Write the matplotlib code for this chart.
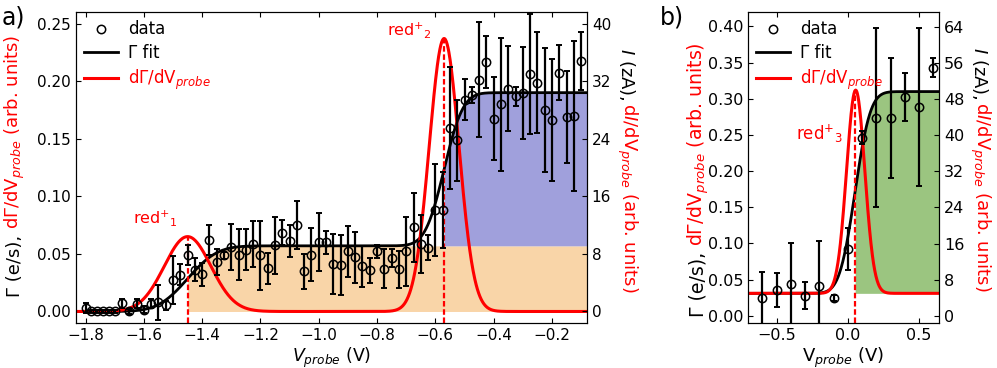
import math
import numpy as np
import matplotlib
matplotlib.use('Agg')
import matplotlib.pyplot as plt

# ---- panel a data: rate vs probe voltage
v_a = [-1.80, -1.78, -1.76, -1.74, -1.72, -1.70, -1.675, -1.65, -1.625, -1.60,
       -1.575, -1.55, -1.525, -1.50, -1.475, -1.45, -1.425, -1.40, -1.375, -1.35,
       -1.325, -1.30, -1.275, -1.25, -1.225, -1.20, -1.175, -1.15, -1.125, -1.10,
       -1.075, -1.05, -1.025, -1.00, -0.975, -0.95, -0.925, -0.90, -0.875, -0.85,
       -0.825, -0.80, -0.775, -0.75, -0.725, -0.70, -0.675, -0.65, -0.625, -0.60,
       -0.575, -0.55, -0.525, -0.50, -0.475, -0.45, -0.425, -0.40, -0.375, -0.35,
       -0.325, -0.30, -0.275, -0.25, -0.225, -0.20, -0.175, -0.15, -0.125, -0.10]
g_a = [0.003, 0.0, 0.0, 0.0, 0.0, 0.0, 0.007, 0.0, 0.0067, 0.0015,
       0.0067, 0.008, 0.0055, 0.0275, 0.032, 0.0487, 0.0362, 0.0322, 0.0617, 0.0429,
       0.0487, 0.0559, 0.0492, 0.0536, 0.0582, 0.0487, 0.0377, 0.0574, 0.0684, 0.0611,
       0.0753, 0.0348, 0.0493, 0.0602, 0.0602, 0.0414, 0.040, 0.0521, 0.047, 0.0391,
       0.0356, 0.0521, 0.0371, 0.0466, 0.0365, 0.0524, 0.0733, 0.0588, 0.0553, 0.0878,
       0.0878, 0.1596, 0.1486, 0.184, 0.1883, 0.2013, 0.2166, 0.1674, 0.1799, 0.1935,
       0.1868, 0.19, 0.2059, 0.1987, 0.1747, 0.166, 0.2074, 0.1688, 0.170, 0.2175]
e_a = [0.004, 0.001, 0.001, 0.001, 0.001, 0.001, 0.004, 0.002, 0.004, 0.003,
       0.004, 0.015, 0.004, 0.021, 0.009, 0.0087, 0.010, 0.010, 0.013, 0.011,
       0.003, 0.020, 0.022, 0.018, 0.020, 0.030, 0.0135, 0.025, 0.011, 0.014,
       0.021, 0.015, 0.023, 0.025, 0.010, 0.026, 0.026, 0.022, 0.022, 0.018,
       0.011, 0.006, 0.017, 0.0077, 0.016, 0.030, 0.030, 0.025, 0.011, 0.040,
       0.033, 0.053, 0.035, 0.018, 0.007, 0.050, 0.0225, 0.036, 0.0575, 0.037,
       0.0085, 0.040, 0.052, 0.044, 0.054, 0.053, 0.024, 0.040, 0.065, 0.025]

# fit parameters panel a (two steps)
step_a = [0.057, 0.133]
cen_a = [-1.45, -0.57]
wid_a = [0.08, 0.051]
peak_a = [0.065, 0.237]   # dGamma/dV peaks (arb.)

# ---- panel b data
v_b = [-0.6, -0.5, -0.4, -0.3, -0.2, -0.1, 0.0, 0.1, 0.2, 0.3, 0.4, 0.5, 0.6]
g_b = [0.0248, 0.0359, 0.0441, 0.028, 0.041, 0.0244, 0.0924, 0.2464, 0.274, 0.274,
       0.303, 0.289, 0.343]
e_b = [0.036, 0.0235, 0.056, 0.019, 0.062, 0.004, 0.029, 0.009, 0.124, 0.083,
       0.033, 0.109, 0.013]

base_b = 0.031
step_b = 0.279
cen_b = 0.05
wid_b = 0.085
peak_b = 0.281
pwid_b = 0.064

E_ZA = 160.2   # e/s -> zA

perf = np.vectorize(math.erf)


def step(v, a, c, w):
    return a * 0.5 * (1 + perf((v - c) / (np.sqrt(2) * w)))


def gauss(v, a, c, w):
    return a * np.exp(-(v - c) ** 2 / (2 * w ** 2))


plt.rcParams['font.size'] = 11
fig = plt.figure(figsize=(9.97, 3.68), dpi=100)
ax1 = fig.add_axes([0.0762, 0.1223, 0.5125, 0.845])
ax2 = fig.add_axes([0.7503, 0.1223, 0.1916, 0.845])

# ================= panel a
xlim_a = (-1.833, -0.08)
ylim_a = (-0.01, 0.26)
vv = np.linspace(xlim_a[0], xlim_a[1], 1200)
fit_a = step(vv, step_a[0], cen_a[0], wid_a[0]) + step(vv, step_a[1], cen_a[1], wid_a[1])
red_a = gauss(vv, peak_a[0], cen_a[0], wid_a[0]) + gauss(vv, peak_a[1], cen_a[1], wid_a[1])

m1 = vv >= cen_a[0]
ax1.fill_between(vv[m1], 0, np.minimum(fit_a[m1], step_a[0]), color='#f9d5a8', lw=0)
m2 = vv >= cen_a[1]
ax1.fill_between(vv[m2], step_a[0], fit_a[m2], color='#a0a0dc', lw=0)

ax1.plot(vv, fit_a, color='black', lw=2, label='Γ fit')
ax1.plot(vv, red_a, color='red', lw=2.2, label=r'd$\Gamma$/dV$_{probe}$')
for c, p in zip(cen_a, peak_a):
    ax1.plot([c, c], [ylim_a[0], p], color='red', ls='--', dashes=(2.5, 1.2), lw=1.6)
ax1.errorbar(v_a, g_a, yerr=e_a, fmt='none', ecolor='black', elinewidth=1.6,
             capsize=2.5, capthick=1.4)
ax1.plot(v_a, g_a, 'o', mfc='none', mec='black', ms=6, mew=1.1, label='data')

ax1.text(-1.56, 0.081, r'red$^{+}$$_{1}$', color='red', ha='center', va='center', fontsize=11.5)
ax1.text(-0.69, 0.244, r'red$^{+}$$_{2}$', color='red', ha='center', va='center', fontsize=11.5)

ax1.set_xlim(*xlim_a)
ax1.set_ylim(*ylim_a)
ax1.set_xticks([-1.8, -1.6, -1.4, -1.2, -1.0, -0.8, -0.6, -0.4, -0.2])
ax1.set_yticks([0.0, 0.05, 0.10, 0.15, 0.20, 0.25])
ax1.tick_params(direction='in', top=True, right=False)
ax1.set_xlabel(r'$V_{probe}$ (V)', labelpad=2, fontsize=12.5)

tw1 = ax1.twinx()
tw1.set_ylim(ylim_a[0] * E_ZA, ylim_a[1] * E_ZA)
tw1.set_yticks([0, 8, 16, 24, 32, 40])
tw1.tick_params(direction='in')

h, l = ax1.get_legend_handles_labels()
leg = ax1.legend([h[2], h[0], h[1]], [l[2], l[0], l[1]], loc='upper left',
                 frameon=False, borderaxespad=0.1, handletextpad=0.6,
                 labelspacing=0.35, fontsize=12)
leg.get_texts()[2].set_color('red')

# ================= panel b
xlim_b = (-0.70, 0.64)
ylim_b = (-0.01, 0.42)
vb = np.linspace(xlim_b[0], xlim_b[1], 800)
fit_b = base_b + step(vb, step_b, cen_b, wid_b)
red_b = base_b + gauss(vb, peak_b, cen_b + 0.005, pwid_b)

m3 = vb >= cen_b
ax2.fill_between(vb[m3], base_b, fit_b[m3], color='#9bc580', lw=0)
ax2.plot(vb, fit_b, color='black', lw=2, label='Γ fit')
ax2.plot(vb, red_b, color='red', lw=2.2, label=r'd$\Gamma$/dV$_{probe}$')
ax2.plot([cen_b, cen_b], [ylim_b[0], base_b + peak_b], color='red', ls='--',
         dashes=(2.5, 1.2), lw=1.6)
ax2.errorbar(v_b, g_b, yerr=e_b, fmt='none', ecolor='black', elinewidth=1.6,
             capsize=2.5, capthick=1.4)
ax2.plot(v_b, g_b, 'o', mfc='none', mec='black', ms=6, mew=1.1, label='data')
ax2.text(-0.197, 0.251, r'red$^{+}$$_{3}$', color='red', ha='center', va='center', fontsize=12)

ax2.set_xlim(*xlim_b)
ax2.set_ylim(*ylim_b)
ax2.set_xticks([-0.5, 0.0, 0.5])
ax2.set_yticks([0.0, 0.05, 0.10, 0.15, 0.20, 0.25, 0.30, 0.35, 0.40])
ax2.tick_params(direction='in', top=True, right=False, labelsize=11.5)
ax2.set_xlabel(r'V$_{probe}$ (V)', labelpad=2, fontsize=13)

tw2 = ax2.twinx()
tw2.set_ylim(ylim_b[0] * E_ZA, ylim_b[1] * E_ZA)
tw2.set_yticks([0, 8, 16, 24, 32, 40, 48, 56, 64])
tw2.tick_params(direction='in', labelsize=11.5)

h, l = ax2.get_legend_handles_labels()
leg2 = ax2.legend([h[2], h[0], h[1]], [l[2], l[0], l[1]], loc='upper left',
                  frameon=False, borderaxespad=0.1, handletextpad=0.6,
                  labelspacing=0.35, fontsize=12)
leg2.get_texts()[2].set_color('red')

# ---- two coloured axis labels
fig.canvas.draw()
rend = fig.canvas.get_renderer()


def two_color_label(ax, x, y0, parts, rot, size):
    axh = ax.get_window_extent(rend).height
    pos = y0
    for txt, col in parts:
        t = ax.text(x, pos, txt, color=col, rotation=rot, ha='center',
                    va='bottom' if rot == 90 else 'top', transform=ax.transAxes,
                    fontsize=size, clip_on=False)
        hh = t.get_window_extent(rend).height / axh
        pos = pos + hh if rot == 90 else pos - hh


left_parts = [('Γ (e/s), ', 'black'), (r'd$\Gamma$/dV$_{probe}$ (arb. units)', 'red')]
right_parts = [(r'$I$ (zA), ', 'black'), (r'd$I$/dV$_{probe}$ (arb. units)', 'red')]
two_color_label(ax1, -0.119, 0.084, left_parts, 90, 13)
two_color_label(ax1, 1.078, 0.884, right_parts, 270, 13)
two_color_label(ax2, -0.262, 0.019, left_parts, 90, 13.6)
two_color_label(ax2, 1.215, 0.887, right_parts, 270, 13)

fig.text(0.002, 0.985, 'a)', fontsize=17, va='top', ha='left')
fig.text(0.662, 0.985, 'b)', fontsize=17, va='top', ha='left')

fig.savefig('out.png', dpi=100)
